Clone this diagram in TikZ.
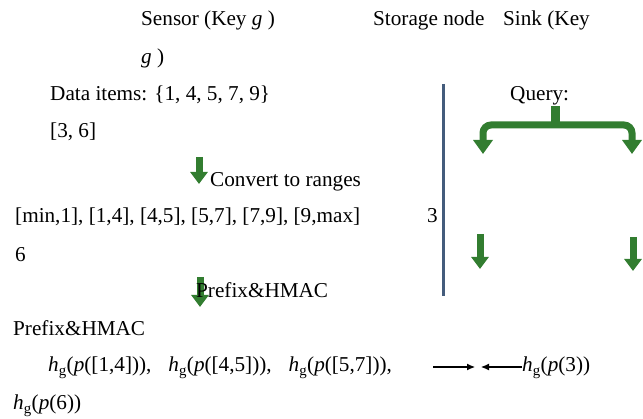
\documentclass[tikz,border=0pt]{standalone}
\usepackage{fontspec}
\setmainfont{Liberation Serif}
\usetikzlibrary{arrows.meta,positioning}

\definecolor{flowgreen}{RGB}{50,125,48}
\definecolor{divider}{RGB}{68,92,124}

\newcommand{\hg}[1]{\textit{h}\textsubscript{g}(\textit{p}(#1))}

\begin{document}
\begin{tikzpicture}[x=1pt,y=-1pt,
    txt/.style={anchor=base west,inner sep=0pt,font=\fontsize{21.2}{25}\selectfont},
    greenline/.style={draw=flowgreen,line width=7pt},
    blockarrow/.style={greenline,-{Triangle[width=17pt,length=12pt]}},
    thinarrow/.style={draw,line width=1.1pt,-{Latex[length=8pt,width=7pt]}}]

    \useasboundingbox (0,0) rectangle (643,419);

    % green flow arrows (under the labels)
    \coordinate (convtop) at (199,157);
    \coordinate (convbot) at (199,184);
    \coordinate (hmactop) at (200,277);
    \coordinate (hmacbot) at (200,307);
    \draw[blockarrow] (convtop) -- (convbot);
    \draw[blockarrow] (hmactop) -- (hmacbot);

    % sensor side
    \node[txt] (sensor)  at (141,26)  {Sensor (Key \textit{g} )};
    \node[txt] (sensorg) at (141,64)  {\textit{g} )};
    \node[txt] (items)   at (50,101)  {Data items: \{1, 4, 5, 7, 9\}};
    \node[txt] (qrange)  at (50,138)  {[3, 6]};
    \node[txt] (conv)    at (210,187) {Convert to ranges};
    \node[txt] (ranges)  at (15,223)  {[min,1], [1,4], [4,5], [5,7], [7,9], [9,max]};
    \node[txt] (three)   at (427,223) {3};
    \node[txt] (six)     at (15,262)  {6};
    \node[txt] (hmac)    at (196,298) {Prefix\&HMAC};
    \node[txt] (hmacb)   at (13,336)  {Prefix\&HMAC};
    \node[txt] (hashes)  at (48,372)
        {\hg{[1,4]},\hspace{0.8em}\hg{[4,5]},\hspace{0.8em}\hg{[5,7]},};
    \node[txt] (hsix)    at (13,410)  {\hg{6}};

    % storage node and sink
    \node[txt] (storage) at (373,26)  {Storage node};
    \node[txt] (sink)    at (503,26)  {Sink (Key};
    \node[txt] (query)   at (510,101) {Query:};
    \node[txt] (hthree)  at (522,372) {\hg{3}};

    \draw[divider,line width=3pt] (443,84) -- (443,296);

    % query split
    \coordinate (qstem)  at (555,106);
    \coordinate (qjoin)  at (555,125);
    \coordinate (qleft)  at (483,154);
    \coordinate (qright) at (632,154);
    \draw[greenline,line width=9pt] (qstem) -- (qjoin);
    \draw[greenline,rounded corners=8pt,
          {Triangle[width=19pt,length=14pt]}-{Triangle[width=19pt,length=14pt]}]
        (qleft) |- (qjoin) -| (qright);

    \coordinate (lefttop)  at (480,234);
    \coordinate (leftbot)  at (480,269);
    \coordinate (righttop) at (633,237);
    \coordinate (rightbot) at (633,271);
    \draw[blockarrow] (lefttop) -- (leftbot);
    \draw[blockarrow] (righttop) -- (rightbot);

    % comparison
    \coordinate (cmpleft)  at (433,367);
    \coordinate (cmpmid)   at (475,367);
    \coordinate (cmpright) at (481,367);
    \draw[thinarrow] (cmpleft) -- (cmpmid);
    \draw[thinarrow] (hthree.west |- cmpright) -- (cmpright);
\end{tikzpicture}
\end{document}
